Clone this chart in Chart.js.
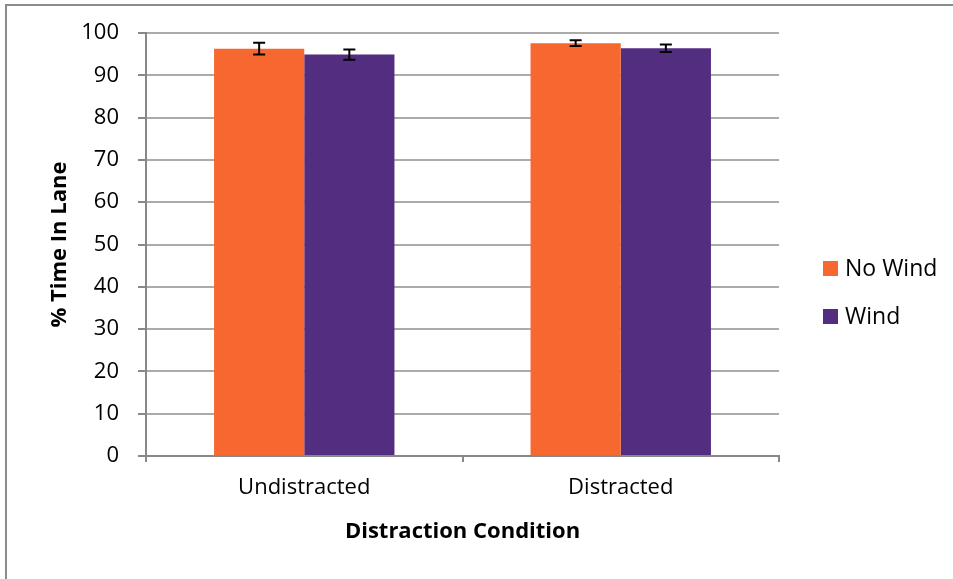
<!DOCTYPE html>
<html>
<head>
<meta charset="utf-8">
<script src="https://cdn.jsdelivr.net/npm/chart.js@4.4.1/dist/chart.umd.min.js"></script>
<style>
    html, body { margin: 0; padding: 0; background: #fff; overflow: hidden; }
    #wrap { position: relative; width: 953px; height: 579px; }
    #frame { position: absolute; left: 5px; top: 4px; width: 1000px; height: 600px;
             border-left: 2px solid #8c8c8c; border-top: 2px solid #8c8c8c; }
    canvas { position: absolute; left: 0; top: 0; }
</style>
</head>
<body>
<div id="wrap">
    <div id="frame"></div>
    <canvas id="chart" width="953" height="579"></canvas>
</div>
<script>
// data
const categories = ['Undistracted', 'Distracted'];
const seriesNames = ['No Wind', 'Wind'];
const noWind = [96.3, 97.6];
const wind = [94.9, 96.4];
const errNoWind = [1.4, 0.7];
const errWind = [1.2, 0.9];
const yTicks = [0, 10, 20, 30, 40, 50, 60, 70, 80, 90, 100];

const colors = ['#F6682F', '#532D7F'];
const errors = [errNoWind, errWind];
const fontFamily = '"Open Sans", "Noto Sans", sans-serif';

// error bars drawn on top of the bars
const errorBars = {
    id: 'errorBars',
    afterDatasetsDraw(chart) {
        const ctx = chart.ctx;
        const yScale = chart.scales.y;
        ctx.save();
        ctx.strokeStyle = '#000';
        ctx.lineWidth = 2;
        chart.data.datasets.forEach((ds, i) => {
            const meta = chart.getDatasetMeta(i);
            meta.data.forEach((bar, j) => {
                const v = ds.data[j];
                const e = errors[i][j];
                const yTop = yScale.getPixelForValue(v + e);
                const yBot = yScale.getPixelForValue(v - e);
                const x = bar.x;
                ctx.beginPath();
                ctx.moveTo(x, yTop); ctx.lineTo(x, yBot);
                ctx.moveTo(x - 6, yTop); ctx.lineTo(x + 6, yTop);
                ctx.moveTo(x - 6, yBot); ctx.lineTo(x + 6, yBot);
                ctx.stroke();
            });
        });
        ctx.restore();
    }
};

// legend on the right, like the original
const sideLegend = {
    id: 'sideLegend',
    afterDraw(chart) {
        const ctx = chart.ctx;
        ctx.save();
        ctx.font = '23px ' + fontFamily;
        ctx.textBaseline = 'middle';
        seriesNames.forEach((name, i) => {
            const y = 268 + i * 48;
            ctx.fillStyle = colors[i];
            ctx.fillRect(823, y - 7, 15, 15);
            ctx.fillStyle = '#000';
            ctx.fillText(name, 845, y + 1);
        });
        ctx.restore();
    }
};

const ctx = document.getElementById('chart').getContext('2d');
new Chart(ctx, {
    type: 'bar',
    data: {
        labels: categories,
        datasets: [
            { label: seriesNames[0], data: noWind, backgroundColor: colors[0], borderWidth: 0 },
            { label: seriesNames[1], data: wind, backgroundColor: colors[1], borderWidth: 0 }
        ]
    },
    options: {
        responsive: false,
        animation: false,
        layout: { padding: { left: 0, right: 174, top: 33, bottom: 0 } },
        datasets: { bar: { barPercentage: 1, categoryPercentage: 0.57 } },
        plugins: {
            legend: { display: false },
            tooltip: { enabled: false }
        },
        scales: {
            x: {
                afterFit: (scale) => { scale.height = 123; },
                grid: { offset: true, drawOnChartArea: false, tickLength: 6, color: '#888', lineWidth: 2 },
                border: { color: '#888', width: 2 },
                ticks: { color: '#000', font: { family: fontFamily, size: 22 }, padding: 13 },
                title: {
                    display: true, text: 'Distraction Condition', color: '#000',
                    font: { family: fontFamily, size: 22, weight: 'bold' },
                    padding: { top: 0, bottom: 34 }
                }
            },
            y: {
                min: 0, max: 100,
                afterFit: (scale) => { scale.width = 146; },
                afterBuildTicks: (scale) => { scale.ticks = yTicks.map(v => ({ value: v })); },
                grid: { color: '#ababab', lineWidth: 2, tickLength: 8, tickColor: '#888' },
                border: { color: '#888', width: 2 },
                ticks: { color: '#000', font: { family: fontFamily, size: 22 }, padding: 19 },
                title: {
                    display: true, text: '% Time In Lane', color: '#000',
                    font: { family: fontFamily, size: 22, weight: 'bold' },
                    padding: { top: 47, bottom: 0 }
                }
            }
        }
    },
    plugins: [errorBars, sideLegend]
});
</script>
</body>
</html>
